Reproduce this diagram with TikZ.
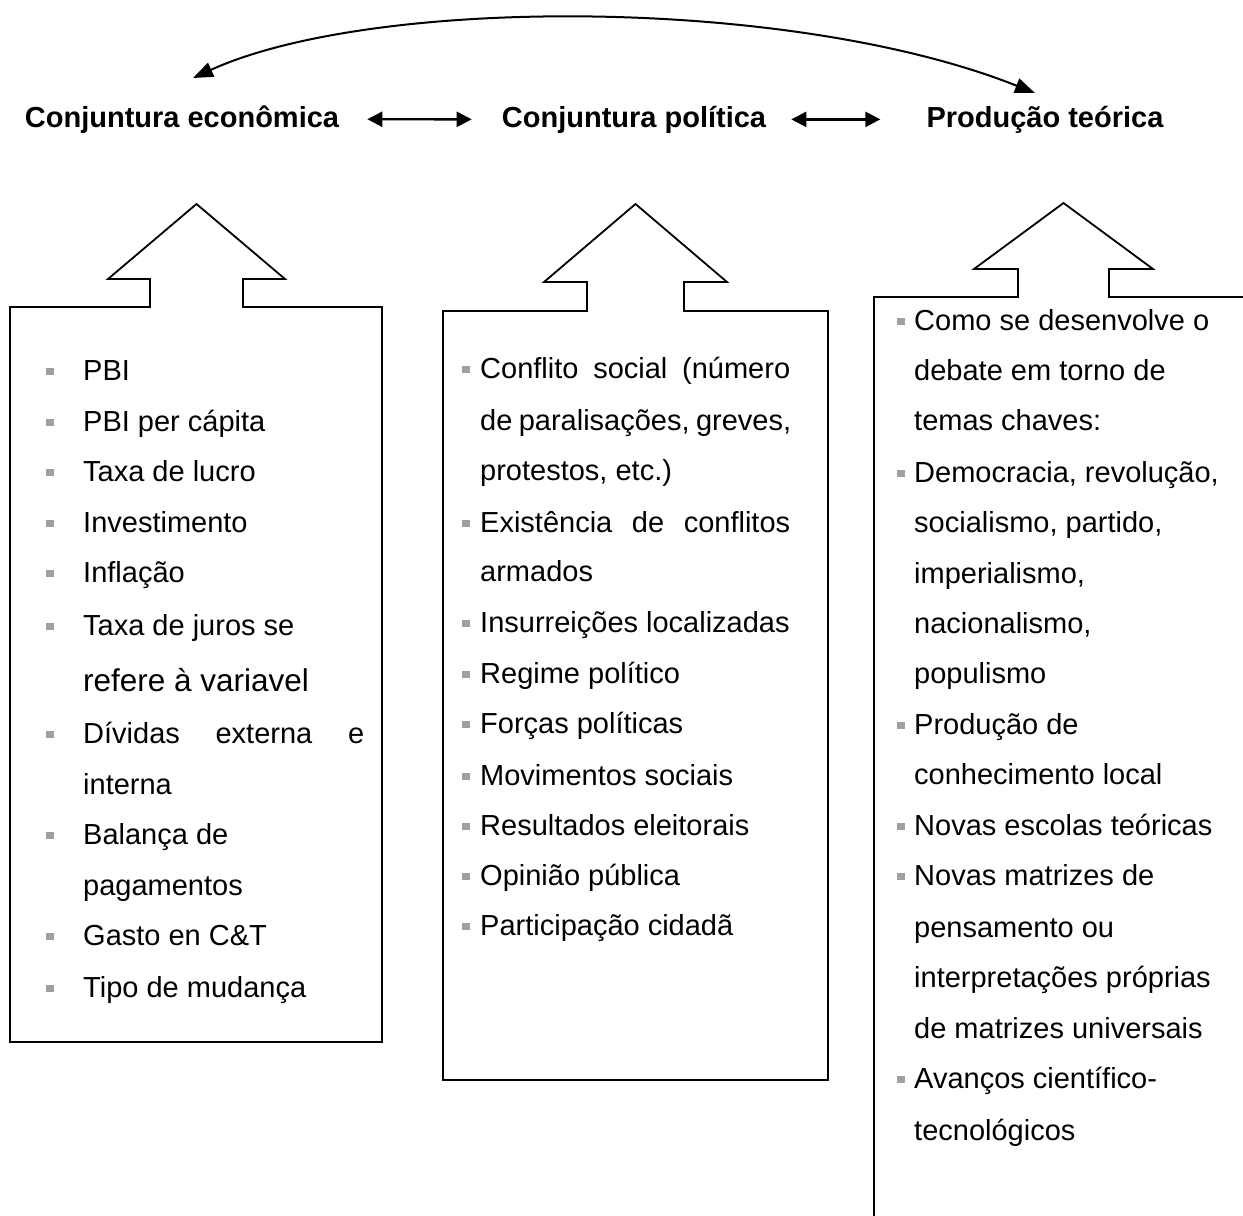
\documentclass[tikz,border=0pt]{standalone}
\usepackage{fontspec}
\setmainfont{Liberation Sans}
\usetikzlibrary{arrows.meta}
\definecolor{bulgray}{HTML}{A0A0A0}
\begin{document}
\begin{tikzpicture}[x=1pt,y=-1pt,
  outl/.style={line width=1.8pt, line join=miter},
  ttl/.style={font=\fontsize{29}{34}\selectfont\bfseries, inner sep=0, anchor=base},
  txt/.style={anchor=base west, inner sep=0, font=\fontsize{29}{34}\selectfont},
  bigtxt/.style={anchor=base west, inner sep=0, font=\fontsize{31.5}{36}\selectfont},
  bul/.style={rectangle, fill=bulgray, draw=none, minimum size=7.5pt, inner sep=0},
  dbl/.style={{Triangle[length=15pt,width=15pt]}-{Triangle[length=15pt,width=15pt]}, line width=2.4pt},
  curv/.style={{Triangle[length=20pt,width=15pt]}-{Triangle[length=20pt,width=15pt]}, line width=2pt}]
\useasboundingbox (0,0) rectangle (1243,1216);
\clip (0,0) rectangle (1243,1216);

% titles
\node[ttl] (ce) at (182,127) {Conjuntura econômica};
\node[ttl] (cp) at (634,127) {Conjuntura política};
\node[ttl] (pt) at (1045,127) {Produção teórica};

\draw[dbl, shorten <=28pt, shorten >=30pt] (ce.east) -- (cp.west);
\draw[dbl, shorten <=25pt, shorten >=46pt] (cp.east) -- (pt.west);

\coordinate (cL) at (193,78);
\coordinate (cR) at (1035,93);
\draw[curv] (cL) .. controls (373,-4) and (791,-4) .. (cR);

% arrow boxes
\draw[outl] (10,307) -- (150,307) -- (150,279) -- (108,279) -- (196.5,204) -- (285,279) -- (243,279) -- (243,307) -- (382,307) -- (382,1042) -- (10,1042) -- cycle;
\draw[outl] (443,311) -- (587,311) -- (587,282) -- (544,282) -- (635.5,204) -- (727,282) -- (684,282) -- (684,311) -- (828,311) -- (828,1080) -- (443,1080) -- cycle;
\draw[outl] (874,1240) -- (874,297) -- (1018,297) -- (1018,269) -- (974,269) -- (1063.5,203) -- (1153,269) -- (1109,269) -- (1109,297) -- (1270,297);

% left box
\node[bul] (lb1) at (50,371.5) {};  \node[txt] (l1) at (83,380) {PBI};
\node[bul] (lb2) at (50,422.5) {};  \node[txt] (l2) at (83,431) {PBI per cápita};
\node[bul] (lb3) at (50,472.5) {};  \node[txt] (l3) at (83,481) {Taxa de lucro};
\node[bul] (lb4) at (50,523.5) {};  \node[txt] (l4) at (83,532) {Investimento};
\node[bul] (lb5) at (50,573.5) {};  \node[txt] (l5) at (83,582) {Inflação};
\node[bul] (lb6) at (50,626.5) {};  \node[txt] (l6) at (83,635) {Taxa de juros se};
\node[bigtxt] (l7) at (83,691) {refere à variavel};
\node[bul] (lb8) at (50,734.5) {};  \node[txt] (l8) at (83,743) {\hbox to 281pt{Dívidas\hfill externa\hfill e}};
\node[txt] (l9) at (83,794) {interna};
\node[bul] (lb10) at (50,835.5) {}; \node[txt] (l10) at (83,844) {Balança de};
\node[txt] (l11) at (83,895) {pagamentos};
\node[bul] (lb12) at (50,936.5) {}; \node[txt] (l12) at (83,945) {Gasto en C\&T};
\node[bul] (lb13) at (50,988.5) {}; \node[txt] (l13) at (83,997) {Tipo de mudança};

% middle box
\node[bul] (mb1) at (466,369.5) {};  \node[txt] (m1) at (480,378) {\hbox to 310pt{Conflito\hfill social\hfill (número}};
\node[txt] (m2) at (480,430) {\hbox to 311pt{de\hfill paralisações,\hfill greves,}};
\node[txt] (m3) at (480,480) {protestos, etc.)};
\node[bul] (mb4) at (466,523.5) {};  \node[txt] (m4) at (480,532) {\hbox to 310pt{Existência\hfill de\hfill conflitos}};
\node[txt] (m5) at (480,581) {armados};
\node[bul] (mb6) at (466,623.5) {};  \node[txt] (m6) at (480,632) {Insurreições localizadas};
\node[bul] (mb7) at (466,674.5) {};  \node[txt] (m7) at (480,683) {Regime político};
\node[bul] (mb8) at (466,724.5) {};  \node[txt] (m8) at (480,733) {Forças políticas};
\node[bul] (mb9) at (466,776.5) {};  \node[txt] (m9) at (480,785) {Movimentos sociais};
\node[bul] (mb10) at (466,826.5) {}; \node[txt] (m10) at (480,835) {Resultados eleitorais};
\node[bul] (mb11) at (466,876.5) {}; \node[txt] (m11) at (480,885) {Opinião pública};
\node[bul] (mb12) at (466,926.5) {}; \node[txt] (m12) at (480,935) {Participação cidadã};

% right box
\node[bul] (rb1) at (901,321.5) {};  \node[txt] (r1) at (914,330) {Como se desenvolve o};
\node[txt] (r2) at (914,380) {debate em torno de};
\node[txt] (r3) at (914,430) {temas chaves:};
\node[bul] (rb4) at (901,473.5) {};  \node[txt] (r4) at (914,482) {Democracia, revolução,};
\node[txt] (r5) at (914,532) {socialismo, partido,};
\node[txt] (r6) at (914,583) {imperialismo,};
\node[txt] (r7) at (914,633) {nacionalismo,};
\node[txt] (r8) at (914,683) {populismo};
\node[bul] (rb9) at (901,725.5) {};  \node[txt] (r9) at (914,734) {Produção de};
\node[txt] (r10) at (914,784) {conhecimento local};
\node[bul] (rb11) at (901,826.5) {}; \node[txt] (r11) at (914,835) {Novas escolas teóricas};
\node[bul] (rb12) at (901,876.5) {}; \node[txt] (r12) at (914,885) {Novas matrizes de};
\node[txt] (r13) at (914,937) {pensamento ou};
\node[txt] (r14) at (914,987) {interpretações próprias};
\node[txt] (r15) at (914,1038) {de matrizes universais};
\node[bul] (rb16) at (901,1079.5) {}; \node[txt] (r16) at (914,1088) {Avanços científico-};
\node[txt] (r17) at (914,1140) {tecnológicos};
\end{tikzpicture}
\end{document}
